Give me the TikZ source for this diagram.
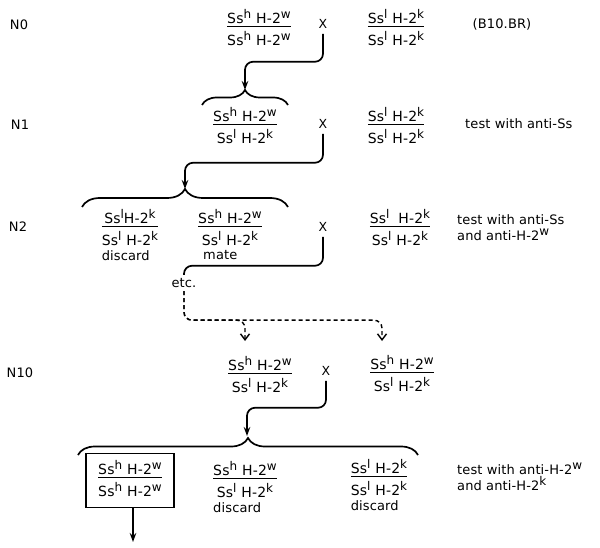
\documentclass[tikz,border=0pt]{standalone}
\usepackage{fontspec}
\setmainfont{DejaVu Sans}[LetterSpace=1]
\usetikzlibrary{arrows.meta,decorations.pathreplacing,positioning}

\setlength{\arrayrulewidth}{1.4pt}
\newcommand{\up}[1]{\raisebox{5pt}{\fontsize{12}{12}\selectfont #1}}
\newcommand{\geno}[2]{\begin{tabular}{@{}c@{}}#1\\\noalign{\vskip-2.5pt}\hline\rule{0pt}{18pt}#2\end{tabular}}
\newcommand{\hw}{Ss\up{h}\hspace{5pt}H-2\up{w}}
\newcommand{\lk}{Ss\up{l}\hspace{5pt}H-2\up{k}}

\begin{document}
\begin{tikzpicture}[x=1pt,y=-1pt,
	every node/.style={font=\fontsize{13}{15}\selectfont},
	geno/.style={inner sep=0pt, font=\fontsize{14}{16}\selectfont},
	cross/.style={font=\fontsize{12.5}{12}\selectfont, inner sep=2pt},
	note/.style={anchor=west, align=left, inner sep=0pt},
	under/.style={anchor=north west, inner sep=0pt},
	flow/.style={line width=1.7pt, rounded corners=8pt, -{Stealth[length=9pt,width=6.5pt]}},
	dflow/.style={line width=1.4pt, dashed, dash pattern=on 4pt off 3pt, rounded corners=8pt, -{Straight Barb[length=6pt,width=9pt]}},
	bracket/.style={line width=1.7pt, decorate, decoration={brace, amplitude=#1}}]
		\useasboundingbox (0,0) rectangle (600,548);

		% generation labels
		\node (n0) at (19,25) {N0};
		\node (n1) at (20,125) {N1};
		\node (n2) at (18,227) {N2};
		\node (n10) at (20,373) {N10};

		% N0
		\node[geno] (g00) at (259,29.5) {\geno{\hw}{\hw}};
		\node[cross] (x0) at (323,24) {X};
		\node[geno] (g01) at (396,29.5) {\geno{\lk}{\lk}};
		\node (b10) at (502,24) {(B10.BR)};

		% N1
		\draw[bracket=15pt] (202,105) -- (288,105);
		\coordinate (t1) at (245,90);
		\node[geno] (g10) at (245,127.5) {\geno{\hw}{\lk}};
		\node[cross] (x1) at (323,124) {X};
		\node[geno] (g11) at (396,127.5) {\geno{\lk}{\lk}};
		\node[note] (test1) at (465,124) {test with anti-Ss};

		% N2
		\draw[bracket=18pt] (82,207) -- (288,207);
		\coordinate (t2) at (185,189);
		\node[geno] (g20) at (130,229.5) {\geno{Ss\up{l}H-2\up{k}}{\lk}};
		\node[under] (dis20) at (g20.south west) {discard};
		\node[geno] (g21) at (230,229.5) {\geno{\hw}{\lk}};
		\node[under, xshift=5pt] (mate) at (g21.south west) {mate};
		\node[cross] (x2) at (323,227) {X};
		\node[geno] (g22) at (400,229.5) {\geno{Ss\up{l}\hspace{9pt}H-2\up{k}}{\lk}};
		\node[note] (test2) at (457,228) {test with anti-Ss\\[1pt]and anti-H-2\up{w}};

		\node (etc) at (184,283) {etc.};
		\coordinate (d1) at (245,341);
		\coordinate (d2) at (382,341);

		% N10
		\node[geno] (g30) at (260,376.5) {\geno{\hw}{\lk}};
		\node[cross] (x3) at (326,371) {X};
		\node[geno] (g31) at (402,375.5) {\geno{\hw}{\lk}};

		% N11
		\draw[bracket=17pt] (78,455) -- (418,455);
		\coordinate (t4) at (247,436);
		\node[geno, draw, line width=1.5pt, inner xsep=12pt, inner ysep=6.5pt] (g40) at (130,480.5) {\geno{\hw}{\hw}};
		\node[geno] (g41) at (245,481.5) {\geno{\hw}{\lk}};
		\node[under] (dis41) at (g41.south west) {discard};
		\node[geno] (g42) at (379,479.5) {\geno{\lk}{\lk}};
		\node[under] (dis42) at (g42.south west) {discard};
		\node[note] (test4) at (457,477) {test with anti-H-2\up{w}\\[1pt]and anti-H-2\up{k}};
		\coordinate (out) at (133,542);

		% crosses
		\draw[flow, shorten <=3pt] (x0.south) -- ++(0,31) -| (t1);
		\draw[flow, shorten <=3pt] (x1.south) -- ++(0,32) -| (t2);
		\draw[line width=1.7pt, rounded corners=8pt, shorten <=3pt] (x2.south) -- ++(0,32) -| (etc.north);
		\draw[dflow] (etc.south) -- ++(0,29) -| (d2);
		\draw[dflow] (etc.south) -- ++(0,29) -| (d1);
		\draw[flow, shorten <=3pt] (x3.south) -- ++(0,30) -| (t4);
		\draw[flow] (g40.south -| out) -- (out);

	\end{tikzpicture}
\end{document}
